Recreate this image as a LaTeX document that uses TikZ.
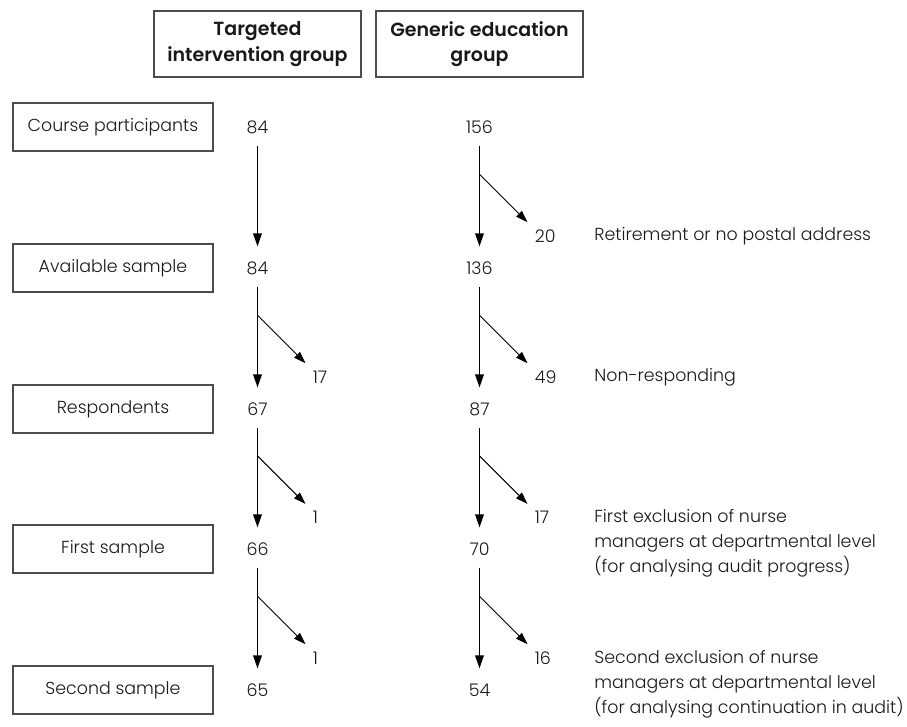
\documentclass[tikz,border=0pt]{standalone}
\usepackage{fontspec}
\setmainfont{Poppins}[UprightFont={* Light},BoldFont={* SemiBold}]
\usetikzlibrary{arrows.meta,calc}

\begin{document}
\begin{tikzpicture}[x=0.5pt, y=-0.5pt,
    every node/.style={font=\fontsize{8.7}{12.6}\selectfont, text=black!90},
    head/.style={draw=black!70, line width=0.7pt, minimum width=103.5pt, minimum height=33pt,
      align=center, inner sep=0pt, font=\fontsize{9.5}{12.6}\selectfont\bfseries},
    stagebox/.style={draw=black!70, line width=0.7pt, minimum width=100pt, minimum height=24pt, inner sep=0pt},
    count/.style={inner sep=0pt, text height=6.2pt, text depth=0pt},
    note/.style={inner sep=0pt, anchor=west, align=left},
    flow/.style={line width=0.75pt, -{Triangle[length=6.5pt,width=4.3pt]},
      shorten <=6pt, shorten >=7.5pt},
    drop/.style={line width=0.5pt, -{Triangle[length=6pt,width=4pt]}}]
  \useasboundingbox (0,0) rectangle (907,727);

  % group headers
  \node[head] (tig) at (257.5,44) {Targeted\\intervention group};
  \node[head] (geg) at (479.5,44) {Generic education\\group};

  % stages and counts
  \foreach \n/\y/\stage/\ti/\ge in {1/127/Course participants/84/156,
      2/268/Available sample/84/136, 3/409/Respondents/67/87,
      4/549/First sample/66/70, 5/690/Second sample/65/54} {
    \node[stagebox] (s\n) at (113,\y) {\stage};
    \node[count] (t\n) at (257.5,\y) {\ti};
    \node[count] (g\n) at (479.5,\y) {\ge};
  }

  % flow down
  \foreach \n/\m in {1/2,2/3,3/4,4/5} {
    \draw[flow] (t\n) -- (t\m);
    \draw[flow] (g\n) -- (g\m);
  }

  % drop-outs
  \foreach \c/\n/\m/\num in {t/2/3/17, t/3/4/1, t/4/5/1,
      g/1/2/20, g/2/3/49, g/3/4/17, g/4/5/16} {
    \coordinate (\c\n x) at ($(\c\n)!0.335!(\c\m)$);
    \coordinate (\c\n y) at ($(\c\n x)+(48,48)$);
    \node[count, anchor=west] (\c\n d) at ($(\c\m)+(55,-32)$) {\num};
    \draw[drop] (\c\n x) -- (\c\n y);
  }

  % reasons
  \node[note] (why1) at (594,236) {Retirement or no postal address};
  \node[note] (why2) at (594,377) {Non-responding};
  \node[note, anchor=north west] (why3) at (594,509)
    {First exclusion of nurse\\managers at departmental level\\(for analysing audit progress)};
  \node[note, anchor=north west] (why4) at (594,650)
    {Second exclusion of nurse\\managers at departmental level\\(for analysing continuation in audit)};
\end{tikzpicture}
\end{document}
